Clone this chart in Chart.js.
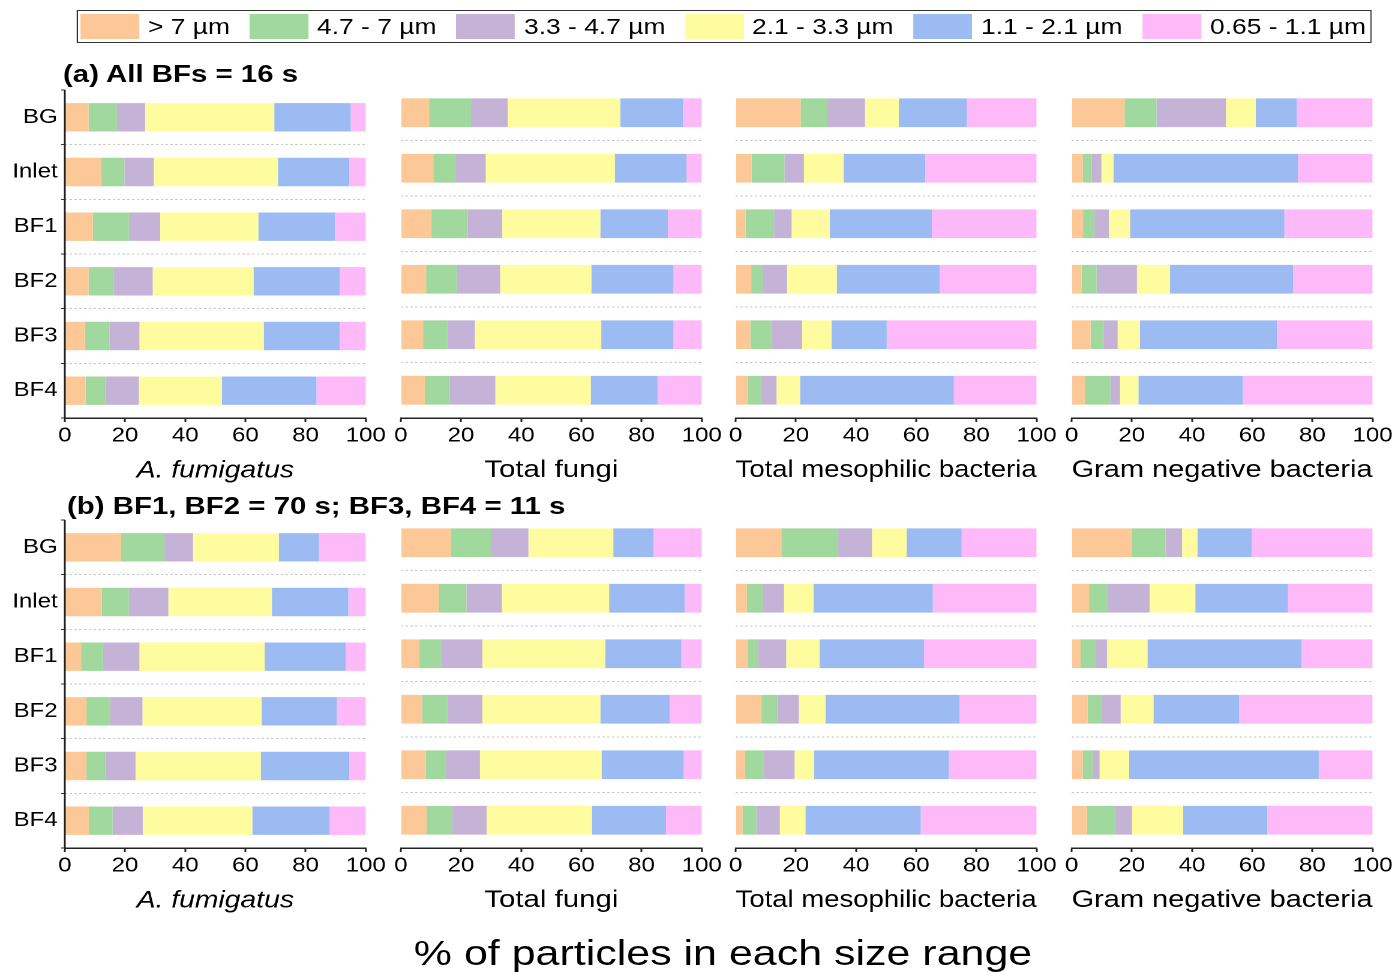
<!DOCTYPE html>
<html>
<head>
<meta charset="utf-8">
<script src="https://cdn.jsdelivr.net/npm/chart.js@4.4.0/dist/chart.umd.min.js"></script>
<style>
  html, body { margin: 0; padding: 0; background: #fff; }
  body { width: 1395px; height: 972px; overflow: hidden; position: relative;
         font-family: "Liberation Sans", Arial, sans-serif; color: #000; }
  /* the figure is laid out narrow and stretched horizontally */
  #stage { position: absolute; left: 0; top: 0; width: 1162.5px; height: 972px;
           transform: scaleX(1.2); transform-origin: 0 0; }
  .abs { position: absolute; white-space: nowrap; }
  canvas { position: absolute; }
</style>
</head>
<body>
<div id="stage"></div>
<script>
// ---- labels ----
const sites = ['BG', 'Inlet', 'BF1', 'BF2', 'BF3', 'BF4'];
const sizeRanges = ['> 7 µm', '4.7 - 7 µm', '3.3 - 4.7 µm', '2.1 - 3.3 µm', '1.1 - 2.1 µm', '0.65 - 1.1 µm'];
const rangeColours = ['#FCC897', '#A0D89D', '#C4B3D6', '#FFFC9F', '#9CBBF2', '#FDB9F8'];
const percentTicks = [0, 20, 40, 60, 80, 100];
const organisms = ['A. fumigatus', 'Total fungi', 'Total mesophilic bacteria', 'Gram negative bacteria'];
const panelTitles = ['(a) All BFs = 16 s', '(b) BF1, BF2 = 70 s; BF3, BF4 = 11 s'];
const axisTitle = '% of particles in each size range';

// ---- % of particles per size range; one row per site (BG..BF4),
//      columns ordered >7, 4.7-7, 3.3-4.7, 2.1-3.3, 1.1-2.1, 0.65-1.1 µm ----

// (a) all biofilters at 16 s
const fumigatus16s = [
  [7.9, 9.4, 9.4, 42.9, 25.4, 5.0],
  [12.1, 7.7, 9.7, 41.3, 23.7, 5.5],
  [9.3, 12.0, 10.4, 32.6, 25.4, 10.3],
  [7.9, 8.3, 13.0, 33.5, 28.7, 8.6],
  [6.7, 8.2, 9.9, 41.3, 25.3, 8.6],
  [6.9, 6.6, 11.1, 27.6, 31.4, 16.4]
];
const fungi16s = [
  [9.4, 13.9, 12.2, 37.4, 20.8, 6.3],
  [10.8, 7.2, 10.2, 42.9, 23.8, 5.1],
  [10.1, 12.1, 11.5, 32.6, 22.4, 11.3],
  [8.4, 10.2, 14.4, 30.3, 27.3, 9.4],
  [7.4, 8.0, 9.2, 42.0, 24.0, 9.4],
  [8.0, 8.3, 15.1, 31.7, 22.2, 14.7]
];
const mesophilic16s = [
  [21.6, 8.7, 12.7, 11.2, 22.6, 23.2],
  [5.3, 10.9, 6.5, 13.2, 27.1, 37.0],
  [3.3, 9.5, 5.8, 12.7, 33.9, 34.8],
  [5.2, 3.8, 8.1, 16.5, 34.2, 32.2],
  [4.9, 7.2, 10.0, 9.8, 18.3, 49.8],
  [4.1, 4.4, 5.1, 7.8, 51.1, 27.5]
];
const gramNeg16s = [
  [17.6, 10.6, 23.1, 9.9, 13.6, 25.2],
  [3.7, 3.0, 3.2, 4.0, 61.3, 24.8],
  [3.8, 3.8, 4.8, 7.0, 51.3, 29.3],
  [3.3, 5.0, 13.4, 11.0, 40.9, 26.4],
  [6.3, 4.3, 4.7, 7.4, 45.5, 31.8],
  [4.4, 8.5, 3.2, 6.1, 34.7, 43.1]
];

// (b) BF1, BF2 at 70 s; BF3, BF4 at 11 s
const fumigatusMixed = [
  [18.7, 14.4, 9.5, 28.5, 13.3, 15.6],
  [12.3, 9.0, 13.1, 34.4, 25.4, 5.8],
  [5.4, 7.3, 12.1, 41.6, 26.9, 6.7],
  [7.2, 7.9, 10.7, 39.6, 25.0, 9.6],
  [7.2, 6.3, 10.0, 41.6, 29.4, 5.5],
  [8.0, 7.9, 10.0, 36.4, 25.7, 12.0]
];
const fungiMixed = [
  [16.6, 13.5, 12.3, 28.2, 13.4, 16.0],
  [12.6, 9.2, 11.8, 35.6, 25.1, 5.7],
  [6.1, 7.6, 13.4, 40.8, 25.3, 6.8],
  [7.1, 8.4, 11.6, 39.2, 23.0, 10.7],
  [8.3, 6.7, 11.3, 40.4, 27.3, 6.0],
  [8.6, 8.5, 11.4, 35.0, 24.6, 11.9]
];
const mesophilicMixed = [
  [15.2, 18.9, 11.2, 11.5, 18.3, 24.9],
  [3.7, 5.3, 7.1, 9.8, 39.6, 34.5],
  [3.9, 3.6, 9.3, 11.1, 34.7, 37.4],
  [8.5, 5.4, 7.1, 8.9, 44.5, 25.6],
  [3.2, 6.0, 10.4, 6.5, 44.8, 29.1],
  [2.3, 4.6, 7.8, 8.5, 38.3, 38.5]
];
const gramNegMixed = [
  [19.9, 11.3, 5.5, 5.1, 18.0, 40.2],
  [5.8, 6.2, 13.9, 15.2, 30.8, 28.1],
  [3.0, 4.8, 4.0, 13.4, 51.2, 23.6],
  [5.3, 4.8, 6.2, 10.9, 28.5, 44.3],
  [3.7, 3.3, 2.3, 9.8, 63.0, 17.9],
  [5.1, 9.4, 5.6, 16.9, 28.0, 35.0]
];

const panelRows = [
  [fumigatus16s, fungi16s, mesophilic16s, gramNeg16s],
  [fumigatusMixed, fungiMixed, mesophilicMixed, gramNegMixed]
];

// ---- layout (x in unstretched px, stage is stretched by SX) ----
const SX = 1.2;
const FONT = '"Liberation Sans", Arial, sans-serif';
Chart.defaults.font.family = FONT;
Chart.defaults.color = '#000';

const stage = document.getElementById('stage');
const plotLefts = [65, 401, 736, 1071].map(v => v / SX);
const plotWidth = 301 / SX;
const axisLineY = [418, 848];     // x-axis position of each row of panels
const plotHeight = 329;
const yAxisW = 54, padTop = 10, topInset = 4, xAxisH = 70, canvasW = 330;

function addText(text, left, top, size, extra) {
  const d = document.createElement('div');
  d.className = 'abs';
  d.textContent = text;
  d.style.left = left + 'px';
  d.style.top = top + 'px';
  d.style.fontSize = size + 'px';
  d.style.lineHeight = size + 'px';
  Object.assign(d.style, extra || {});
  stage.appendChild(d);
  return d;
}

// legend strip
const legendBox = document.createElement('div');
legendBox.className = 'abs';
Object.assign(legendBox.style, {
  left: (77 / SX) + 'px', top: '10px', width: ((1372 - 77) / SX) + 'px', height: '33px',
  border: '1.5px solid #333', boxSizing: 'border-box'
});
stage.appendChild(legendBox);
const swatchX = [80, 250, 456, 685, 913, 1142];
const legendTextX = [148, 317, 524, 752, 981, 1210];
sizeRanges.forEach((name, k) => {
  const sw = document.createElement('div');
  sw.className = 'abs';
  Object.assign(sw.style, {
    left: (swatchX[k] / SX) + 'px', top: '14px', width: '49px', height: '25px',
    background: rangeColours[k]
  });
  stage.appendChild(sw);
  addText(name, legendTextX[k] / SX, 34.5 - 0.8465 * 22, 22);
});

// panel headings
addText(panelTitles[0], 63 / SX, 83 - 0.8465 * 24.5, 24.5, { fontWeight: 'bold' });
addText(panelTitles[1], 67 / SX, 515 - 0.8465 * 24.5, 24.5, { fontWeight: 'bold' });

// shared bottom caption
addText(axisTitle, 723 / SX, 966 - 0.8465 * 35.8, 35.8, { transform: 'translateX(-50%)' });

// solid left axis line (the y border option would inherit the grid dash)
const leftAxisLine = {
  id: 'leftAxisLine',
  afterDatasetsDraw(chart, args, opts) {
    if (!opts.show) return;
    const { ctx, chartArea } = chart;
    ctx.save();
    ctx.strokeStyle = '#222';
    ctx.lineWidth = 1.5;
    ctx.beginPath();
    ctx.moveTo(chartArea.left, chartArea.top);
    ctx.lineTo(chartArea.left, chartArea.bottom);
    ctx.stroke();
    ctx.restore();
  }
};

function makePanel(r, c) {
  const rows = panelRows[r][c];
  const first = c === 0;
  const cv = document.createElement('canvas');
  const h = padTop + topInset + plotHeight + xAxisH;
  cv.width = canvasW;
  cv.height = h;
  cv.style.left = (plotLefts[c] - yAxisW) + 'px';
  cv.style.top = (axisLineY[r] + xAxisH - h) + 'px';
  stage.appendChild(cv);

  const datasets = sizeRanges.map((name, k) => ({
    label: name,
    data: rows.map(row => row[k]),
    backgroundColor: rangeColours[k],
    borderWidth: 0,
    barPercentage: 0.52,
    categoryPercentage: 1.0
  }));

  new Chart(cv, {
    type: 'bar',
    data: { labels: sites, datasets },
    plugins: [leftAxisLine],
    options: {
      indexAxis: 'y',
      responsive: false,
      devicePixelRatio: 2,
      animation: false,
      events: [],
      layout: {
        autoPadding: false,
        padding: { top: padTop, left: 0, bottom: 0, right: canvasW - yAxisW - plotWidth }
      },
      plugins: {
        legend: { display: false },
        tooltip: { enabled: false },
        title: { display: false },
        leftAxisLine: { show: first }
      },
      scales: {
        y: {
          stacked: true,
          offset: true,
          afterFit: s => { s.width = yAxisW; },
          grid: {
            offset: true,
            color: ctx => (ctx.index > 0 && ctx.index < sites.length) ? '#c6c6c6' : 'rgba(0,0,0,0)',
            lineWidth: 1,
            drawTicks: first,
            tickLength: 3,
            tickColor: '#333',
            tickWidth: 1
          },
          border: { display: false, dash: [2, 2] },
          ticks: { display: first, padding: 3, color: '#000', font: { size: 20 } }
        },
        x: {
          stacked: true,
          min: 0,
          max: 100,
          afterBuildTicks: s => { s.ticks = percentTicks.map(v => ({ value: v })); },
          afterFit: s => { s.height = xAxisH; },
          grid: { drawOnChartArea: false, drawTicks: true, tickLength: 4, tickColor: '#222', tickWidth: 1.5 },
          border: { display: true, color: '#222', width: 1.5 },
          ticks: { padding: 2, color: '#000', font: { size: 20 }, maxRotation: 0, autoSkip: false },
          title: {
            display: true,
            text: organisms[c],
            color: '#000',
            font: { size: first ? 23.6 : 24.5, style: first ? 'italic' : 'normal' },
            padding: { top: 0, bottom: 3 }
          }
        }
      }
    }
  });
}

for (let r = 0; r < 2; r++) {
  for (let c = 0; c < 4; c++) makePanel(r, c);
}
</script>
</body>
</html>
